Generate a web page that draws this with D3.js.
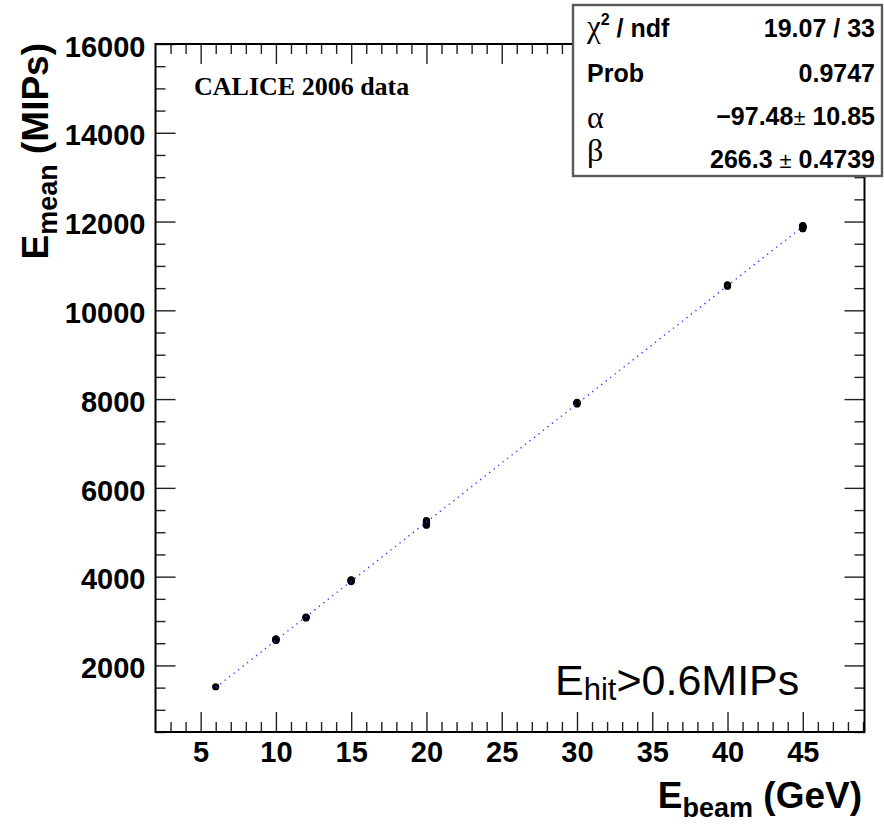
<!DOCTYPE html>
<html>
<head>
<meta charset="utf-8">
<script src="https://cdn.jsdelivr.net/npm/d3@7"></script>
<style>
  html, body { margin: 0; padding: 0; background: #fff; }
  svg { display: block; }
</style>
</head>
<body>
<svg id="chart" width="884" height="824" font-family="Liberation Sans, Arial, Helvetica, sans-serif"></svg>
<script>
// Beam energies (GeV) and measured mean energies (MIPs), several runs per energy
const beamEnergy = [6, 10, 10, 10, 10, 10, 12, 12, 12, 15, 15, 15, 15, 15,
  20, 20, 20, 20, 20, 20, 30, 30, 30, 30, 40, 40, 40,
  45, 45, 45, 45, 45, 45, 45, 45];
const meanEnergy = [1520, 2560, 2570, 2580, 2590, 2600, 3070, 3080, 3090,
  3890, 3900, 3910, 3920, 3930,
  5160, 5180, 5200, 5220, 5240, 5260,
  7890, 7905, 7915, 7925,
  10545, 10560, 10575,
  11840, 11850, 11860, 11870, 11880, 11890, 11900, 11910];

// Linear fit E_mean = alpha + beta * E_beam
const fitAlpha = -97.48;
const fitBeta = 266.3;
const fitRange = [6, 45];

// Fit statistics box rows
const statLabels = ["Prob"];
const statValues = ["19.07 / 33", "0.9747"];
const alphaText = ["\u221297.48", "\u00b1", " 10.85"];
const betaText = ["266.3 ", "\u00b1", " 0.4739"];

// Axis ticks
const xMajorTicks = [5, 10, 15, 20, 25, 30, 35, 40, 45];
const yMajorTicks = [2000, 4000, 6000, 8000, 10000, 12000, 14000, 16000];

const svg = d3.select("#chart");
const frame = { left: 155.5, right: 864.5, top: 44, bottom: 732 };
const sans = "Liberation Sans, Arial, Helvetica, sans-serif";
const serif = "Liberation Serif, Times New Roman, serif";

const x = d3.scaleLinear().domain([2, 49.1]).range([frame.left, frame.right]);
const y = d3.scaleLinear().domain([500, 16000]).range([frame.bottom, frame.top]);

const xMinor = d3.range(3, 49.1, 1).filter(v => v % 5 !== 0);
const yMinor = d3.range(500, 16001, 500).filter(v => v % 2000 !== 0);

function styleTicks(g) {
  g.select(".domain").remove();
  g.selectAll(".tick line").attr("stroke", "#222").attr("stroke-width", 1.4);
}

// Bottom axis with labels
svg.append("g")
  .attr("transform", `translate(0,${frame.bottom})`)
  .call(d3.axisBottom(x).tickValues(xMajorTicks).tickSize(-20).tickSizeOuter(0).tickPadding(9).tickFormat(d3.format("d")))
  .call(styleTicks)
  .call(g => g.selectAll(".tick text")
    .attr("font-family", sans)
    .attr("font-size", 29).attr("font-weight", "bold").attr("fill", "#000")
    .attr("dy", "0.72em"));
svg.append("g")
  .attr("transform", `translate(0,${frame.bottom})`)
  .call(d3.axisBottom(x).tickValues(xMinor).tickSize(-10).tickSizeOuter(0).tickFormat(""))
  .call(styleTicks);

// Top axis, ticks only
svg.append("g")
  .attr("transform", `translate(0,${frame.top})`)
  .call(d3.axisTop(x).tickValues(xMajorTicks).tickSize(-20).tickSizeOuter(0).tickFormat(""))
  .call(styleTicks);
svg.append("g")
  .attr("transform", `translate(0,${frame.top})`)
  .call(d3.axisTop(x).tickValues(xMinor).tickSize(-10).tickSizeOuter(0).tickFormat(""))
  .call(styleTicks);

// Left axis with labels
svg.append("g")
  .attr("transform", `translate(${frame.left},0)`)
  .call(d3.axisLeft(y).tickValues(yMajorTicks).tickSize(-20).tickSizeOuter(0).tickPadding(10).tickFormat(d3.format("d")))
  .call(styleTicks)
  .call(g => g.selectAll(".tick text")
    .attr("font-family", sans)
    .attr("font-size", 29).attr("font-weight", "bold").attr("fill", "#000")
    .attr("dy", "0.42em"));
svg.append("g")
  .attr("transform", `translate(${frame.left},0)`)
  .call(d3.axisLeft(y).tickValues(yMinor).tickSize(-10).tickSizeOuter(0).tickFormat(""))
  .call(styleTicks);

// Right axis, ticks only
svg.append("g")
  .attr("transform", `translate(${frame.right},0)`)
  .call(d3.axisRight(y).tickValues(yMajorTicks).tickSize(-20).tickSizeOuter(0).tickFormat(""))
  .call(styleTicks);
svg.append("g")
  .attr("transform", `translate(${frame.right},0)`)
  .call(d3.axisRight(y).tickValues(yMinor).tickSize(-10).tickSizeOuter(0).tickFormat(""))
  .call(styleTicks);

// Plot frame
svg.append("rect")
  .attr("x", frame.left).attr("y", frame.top)
  .attr("width", frame.right - frame.left).attr("height", frame.bottom - frame.top)
  .attr("fill", "none").attr("stroke", "#000").attr("stroke-width", 2);

// Data points
svg.append("g")
  .selectAll("circle")
  .data(beamEnergy.map((e, i) => [e, meanEnergy[i]]))
  .join("circle")
  .attr("cx", d => x(d[0]))
  .attr("cy", d => y(d[1]))
  .attr("r", 3.6)
  .attr("fill", "#000");

// Fitted line (dotted blue)
const fitLine = d3.line().x(d => x(d)).y(d => y(fitAlpha + fitBeta * d));
svg.append("path")
  .attr("d", fitLine(fitRange))
  .attr("fill", "none")
  .attr("stroke", "#1f3cff")
  .attr("stroke-width", 1.4)
  .attr("stroke-dasharray", "1.3 4.4");

// Experiment label
svg.append("text")
  .attr("x", 194).attr("y", 95)
  .attr("font-family", serif)
  .attr("font-weight", "bold").attr("font-size", 26)
  .text("CALICE 2006 data");

// Hit threshold label
const thr = svg.append("text").attr("x", 555).attr("y", 695).attr("font-size", 43);
thr.append("tspan").text("E");
thr.append("tspan").attr("font-size", 31).attr("dy", 5).text("hit");
thr.append("tspan").attr("dy", -5).text(">0.6MIPs");

// X axis title
const xt = svg.append("text")
  .attr("x", 862).attr("y", 808).attr("text-anchor", "end")
  .attr("font-weight", "bold").attr("font-size", 37);
xt.append("tspan").text("E");
xt.append("tspan").attr("font-size", 27).attr("dy", 9).text("beam");
xt.append("tspan").attr("dy", -9).text(" (GeV)");

// Y axis title
const yt = svg.append("text")
  .attr("transform", "translate(48,43) rotate(-90)")
  .attr("text-anchor", "end")
  .attr("font-weight", "bold").attr("font-size", 37);
yt.append("tspan").text("E");
yt.append("tspan").attr("font-size", 27).attr("dy", 9).text("mean");
yt.append("tspan").attr("dy", -9).text(" (MIPs)");

// Fit statistics box
const box = svg.append("g");
box.append("rect")
  .attr("x", 573).attr("y", 5).attr("width", 309).attr("height", 171)
  .attr("fill", "#fff").attr("stroke", "#5a5a5a").attr("stroke-width", 2.4);

const lx = 587, rx = 875;

const chi = box.append("text").attr("x", lx).attr("y", 37).attr("font-size", 25).attr("font-weight", "bold");
chi.append("tspan").attr("font-family", serif).attr("font-weight", "normal").attr("font-size", 31).text("\u03c7");
chi.append("tspan").attr("font-size", 16).attr("dy", -12).text("2");
chi.append("tspan").attr("dy", 12).text(" / ndf");

box.append("text").attr("x", lx).attr("y", 82).attr("font-size", 25).attr("font-weight", "bold").text(statLabels[0]);

box.append("text").attr("x", lx).attr("y", 128).attr("font-family", serif).attr("font-size", 32).text("\u03b1");
box.append("text").attr("x", lx).attr("y", 161).attr("font-family", serif).attr("font-size", 32).text("\u03b2");

box.append("text").attr("x", rx).attr("y", 37).attr("text-anchor", "end")
  .attr("font-size", 25).attr("font-weight", "bold").text(statValues[0]);
box.append("text").attr("x", rx).attr("y", 82).attr("text-anchor", "end")
  .attr("font-size", 25).attr("font-weight", "bold").text(statValues[1]);

function pmRow(parts, yb) {
  const t = box.append("text").attr("x", rx).attr("y", yb).attr("text-anchor", "end")
    .attr("font-size", 25).attr("font-weight", "bold");
  t.append("tspan").text(parts[0]);
  t.append("tspan").attr("font-weight", "normal").attr("font-size", 22).text(parts[1]);
  t.append("tspan").text(parts[2]);
}
pmRow(alphaText, 125);
pmRow(betaText, 168);
</script>
</body>
</html>
